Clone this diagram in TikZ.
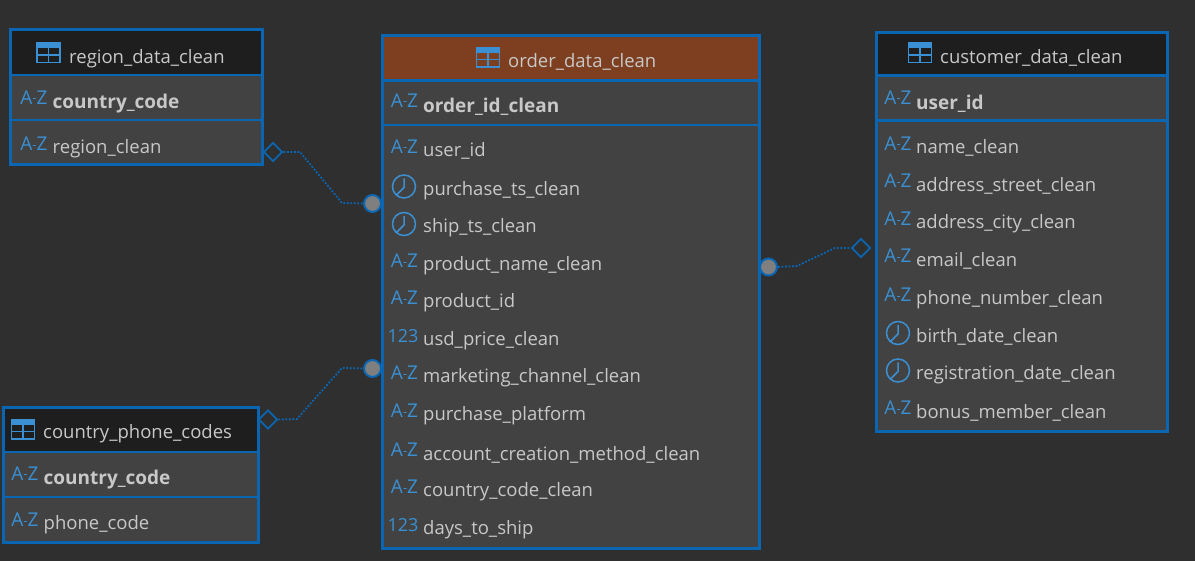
\documentclass[tikz,border=0pt]{standalone}
\usepackage{fontspec}
\setmainfont{Open Sans}
\usetikzlibrary{shapes.geometric}
\definecolor{bgc}{HTML}{2F2F2F}
\definecolor{bodyc}{HTML}{424242}
\definecolor{headc}{HTML}{1E1E1E}
\definecolor{ordc}{HTML}{7D3F1F}
\definecolor{edgec}{HTML}{0A66B2}
\definecolor{iconc}{HTML}{3A90D2}
\definecolor{txtc}{HTML}{C8C8C8}
\definecolor{dotc}{HTML}{7F7F7F}
\tikzset{
  tablebox/.style={draw=edgec,line width=3pt,fill=none,inner sep=0pt,outer sep=0pt},
  label/.style={anchor=west,inner sep=0pt,text=txtc,font=\fontsize{18.5}{20}\selectfont},
  keylabel/.style={label,font=\fontsize{19}{20}\selectfont\bfseries},
  azicon/.style={anchor=center,inner sep=0pt,text=iconc,font=\fontsize{19}{20}\selectfont},
  conn/.style={draw=edgec,line width=1.8pt,dash pattern=on 1.8pt off 1.7pt},
  card/.style={shape=diamond,draw=edgec,line width=1.9pt,fill=none,minimum width=19pt,minimum height=19pt,inner sep=0pt},
  dotend/.style={shape=circle,draw=edgec,line width=2pt,fill=dotc,minimum size=17pt,inner sep=0pt},
}
\newcommand{\aztext}{A{\fontsize{13}{13}\selectfont\raisebox{1.5pt}{-}}Z}
\newcommand{\tablegrid}[8]{% name x1 y1 x2 y2 line1 line2 headcolor
  \fill[bodyc] (#2,#3) rectangle (#4,#5);
  \fill[#8] (#2,#3) rectangle (#4,#6);
  \draw[edgec,line width=2.2pt] (#2,#6) -- (#4,#6) (#2,#7) -- (#4,#7);
  \node[tablebox,anchor=north west,minimum width={(#4-#2)*1pt},minimum height={(#5-#3)*1pt}] (#1) at (#2,#3) {};
}
\newcommand{\tableicon}[2]{% center x y
  \fill[iconc] (#1-12,#2-10) rectangle (#1+12,#2-4.5);
  \draw[iconc,line width=1.5pt] (#1-11.5,#2-10) rectangle (#1+11.5,#2+9.5) (#1-11.5,#2+2) -- (#1+11.5,#2+2) (#1,#2-5) -- (#1,#2+9.5);
}
\newcommand{\clockicon}[2]{% center x y
  \draw[iconc,line width=1.5pt] (#1,#2) circle (11.5) (#1,#2-8) -- (#1,#2+1) -- (#1-7.5,#2+8.5);
}
\newcommand{\azrow}[5]{% name iconx texty textx text
  \node[azicon] (#1i) at (#2,#3-4.5) {\aztext};
  \node[label] (#1) at (#4,#3) {#5};
}
\newcommand{\numrow}[5]{%
  \node[azicon,font=\fontsize{18}{20}\selectfont] (#1i) at (#2,#3-4.5) {123};
  \node[label] (#1) at (#4,#3) {#5};
}
\newcommand{\clockrow}[5]{%
  \clockicon{#2}{#3-4}
  \node[label] (#1) at (#4,#3) {#5};
}
\begin{document}
\begin{tikzpicture}[x=1pt,y=-1pt]
\useasboundingbox (0,0) rectangle (1195,561);
\fill[bgc] (0,0) rectangle (1195,561);

% region_data_clean
\tablegrid{region}{10.5}{29.5}{262.5}{164.5}{75}{120}{headc}
\tableicon{48.5}{53}
\node[label] (regionh) at (69,58.5) {region\_data\_clean};
\node[keylabel] (r1) at (52.5,103.5) {country\_code};
\node[azicon] (r1i) at (34,97.5) {\aztext};
\azrow{r2}{34}{148.5}{52.5}{region\_clean}

% country_phone_codes
\tablegrid{phone}{3.5}{407.5}{258.5}{542}{452}{497}{headc}
\tableicon{23}{429.5}
\node[label] (phoneh) at (43,434) {country\_phone\_codes};
\node[keylabel] (p1) at (43.5,479.5) {country\_code};
\node[azicon] (p1i) at (25,473.5) {\aztext};
\azrow{p2}{25}{524.5}{43.5}{phone\_code}

% order_data_clean
\tablegrid{order}{382}{36}{759.5}{548}{80.5}{125}{ordc}
\tableicon{488}{57.5}
\node[label] (orderh) at (508,62) {order\_data\_clean};
\node[keylabel] (o0) at (423,106.5) {order\_id\_clean};
\node[azicon] (o0i) at (404.5,100.5) {\aztext};
\azrow{o1}{404.5}{151}{423}{user\_id}
\clockrow{o2}{404}{190.5}{423}{purchase\_ts\_clean}
\clockrow{o3}{404}{228}{423}{ship\_ts\_clean}
\azrow{o4}{404.5}{265.5}{423}{product\_name\_clean}
\azrow{o5}{404.5}{302.5}{423}{product\_id}
\numrow{o6}{403}{340.5}{423}{usd\_price\_clean}
\azrow{o7}{404.5}{377.5}{423}{marketing\_channel\_clean}
\azrow{o8}{404.5}{415.5}{423}{purchase\_platform}
\azrow{o9}{404.5}{454.5}{423}{account\_creation\_method\_clean}
\azrow{o10}{404.5}{491.5}{423}{country\_code\_clean}
\numrow{o11}{403}{529.5}{423}{days\_to\_ship}

% customer_data_clean
\tablegrid{cust}{876.5}{32.5}{1167.5}{431.5}{75.5}{120.5}{headc}
\tableicon{920}{53}
\node[label] (custh) at (940,58) {customer\_data\_clean};
\node[keylabel] (c0) at (916,103.5) {user\_id};
\node[azicon] (c0i) at (898,97.5) {\aztext};
\azrow{c1}{898}{148}{916}{name\_clean}
\azrow{c2}{898}{185.5}{916}{address\_street\_clean}
\azrow{c3}{898}{223.5}{916}{address\_city\_clean}
\azrow{c4}{898}{260.5}{916}{email\_clean}
\azrow{c5}{898}{299.5}{916}{phone\_number\_clean}
\clockrow{c6}{898}{337}{916}{birth\_date\_clean}
\clockrow{c7}{898}{374.5}{916}{registration\_date\_clean}
\azrow{c8}{898}{412.5}{916}{bonus\_member\_clean}

% connectors
\node[card] (d1) at (273,152) {};
\node[dotend] (e1) at (372.5,203.5) {};
\coordinate (b1a) at (300,152);
\coordinate (b1b) at (342,203);
\draw[conn] (d1.east) -- (b1a) -- (b1b) -- (e1.west);

\node[card] (d2) at (268,419.5) {};
\node[dotend] (e2) at (372.5,368.5) {};
\coordinate (b2a) at (297,419);
\coordinate (b2b) at (342,368);
\draw[conn] (d2.east) -- (b2a) -- (b2b) -- (e2.west);

\node[card] (d3) at (861,248) {};
\node[dotend] (e3) at (768.5,267) {};
\coordinate (b3a) at (797,266);
\coordinate (b3b) at (835,248);
\draw[conn] (e3.east) -- (b3a) -- (b3b) -- (d3.west);
\end{tikzpicture}
\end{document}
